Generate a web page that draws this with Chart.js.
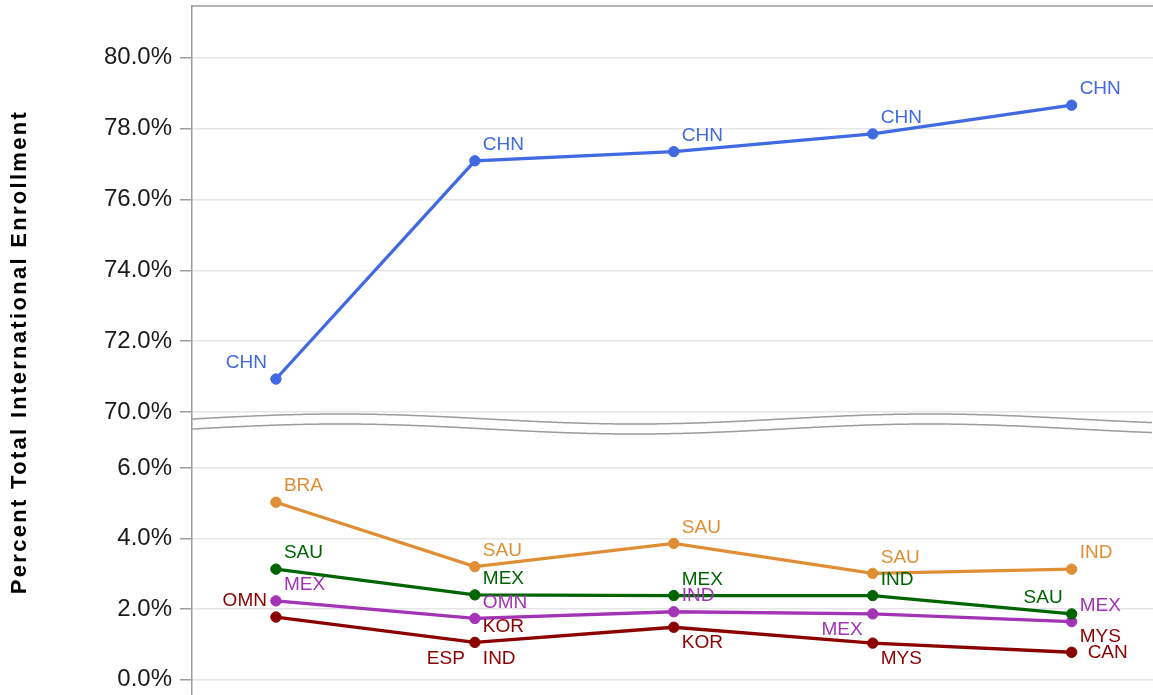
<!DOCTYPE html>
<html>
<head>
<meta charset="utf-8">
<script src="https://cdn.jsdelivr.net/npm/chart.js@4.4.1/dist/chart.umd.min.js"></script>
<style>
  html, body { margin: 0; padding: 0; background: #fff; }
  #wrap { width: 1153px; height: 695px; }
</style>
</head>
<body>
<div id="wrap"><canvas id="enrollChart"></canvas></div>
<script>
// five reporting periods, no labels shown on the x axis
const slots = [0, 1, 2, 3, 4];

// share of total international enrollment (%), by rank
const rank1 = [70.93, 77.09, 77.35, 77.85, 78.66];
const rank2 = [5.03, 3.20, 3.86, 3.01, 3.13];
const rank3 = [3.13, 2.40, 2.38, 2.38, 1.86];
const rank4 = [2.23, 1.73, 1.92, 1.86, 1.64];
const rank5 = [1.77, 1.05, 1.48, 1.03, 0.77];

// country codes shown next to each point
const rank1Codes = [['CHN'], ['CHN'], ['CHN'], ['CHN'], ['CHN']];
const rank2Codes = [['BRA'], ['SAU'], ['SAU'], ['SAU'], ['IND']];
const rank3Codes = [['SAU'], ['MEX'], ['MEX'], ['IND'], ['SAU']];
const rank4Codes = [['MEX'], ['OMN'], ['IND'], ['MEX'], ['MEX']];
const rank5Codes = [['OMN'], ['KOR', 'ESP', 'IND'], ['KOR'], ['MYS'], ['MYS', 'CAN']];

// tick labels of the two axis pieces
const upperTicks = [70, 72, 74, 76, 78, 80];
const lowerTicks = [0, 2, 4, 6];

// where each code sits around its point
const rank1Place = [['nw'], ['ne'], ['ne'], ['ne'], ['ne']];
const rank2Place = [['ne'], ['ne'], ['ne'], ['ne'], ['ne']];
const rank3Place = [['ne'], ['ne'], ['ne'], ['ne'], ['nw']];
const rank4Place = [['ne'], ['ne'], ['ne'], ['sw'], ['ne']];
const rank5Place = [['nw'], ['ne', 'sw', 'se'], ['se'], ['se'], ['ne', 'e']];

const offsets = {
    ne: { dx: 8, dy: -16, align: 'left' },
    nw: { dx: -9, dy: -16, align: 'right' },
    se: { dx: 8, dy: 16, align: 'left' },
    sw: { dx: -10, dy: 16, align: 'right' },
    e: { dx: 16, dy: 0, align: 'left' }
};

const FONT = "'Liberation Sans', Arial, sans-serif";
const AXIS_GRAY = '#9c9c9c';

function series(values, codes, place, color, axis) {
    return {
        data: values.map((v, i) => ({ x: slots[i], y: v })),
        codes: codes,
        place: place,
        yAxisID: axis,
        borderColor: color,
        backgroundColor: color,
        pointBackgroundColor: color,
        pointBorderColor: color,
        borderWidth: 3.3,
        pointRadius: 5.2,
        pointBorderWidth: 1,
        tension: 0
    };
}

function yScale(min, max, weight, order, ticks) {
    return {
        type: 'linear',
        position: 'left',
        stack: 'pct',
        stackWeight: weight,
        weight: order,
        min: min,
        max: max,
        grid: { color: '#e6e6e6', lineWidth: 1.5, tickColor: AXIS_GRAY, tickLength: 12, tickWidth: 1.5 },
        border: { color: AXIS_GRAY, width: 1.5 },
        ticks: {
            color: '#1a1a1a',
            padding: 8,
            font: { family: FONT, size: 24 },
            callback: v => v.toFixed(1) + '%'
        },
        afterBuildTicks: s => { s.ticks = ticks.map(v => ({ value: v })); },
        afterFit: s => { s.width = 192; s.paddingTop = 0; s.paddingBottom = 0; }
    };
}

// wavy break between the two axis pieces, top frame line, y title
const breakPlugin = {
    id: 'axisBreak',
    afterDraw(chart) {
        const { ctx, chartArea } = chart;
        const split = chart.scales.yTop.bottom;
        const w = chartArea.right - chartArea.left;
        ctx.save();
        ctx.strokeStyle = AXIS_GRAY;
        ctx.lineWidth = 1.5;
        [-5, 5].forEach(shift => {
            ctx.beginPath();
            for (let x = chartArea.left; x <= chartArea.right; x += 2) {
                const t = (x - chartArea.left - 148) / (w * 0.614);
                const y = split + shift - 5 * Math.cos(2 * Math.PI * t);
                if (x === chartArea.left) ctx.moveTo(x, y); else ctx.lineTo(x, y);
            }
            ctx.stroke();
        });
        ctx.beginPath();
        ctx.moveTo(chartArea.left, chartArea.top);
        ctx.lineTo(chartArea.right, chartArea.top);
        ctx.stroke();

        ctx.translate(20, 352);
        ctx.rotate(-Math.PI / 2);
        ctx.fillStyle = '#000';
        ctx.font = 'bold 22px ' + FONT;
        ctx.letterSpacing = '2.3px';
        ctx.textAlign = 'center';
        ctx.textBaseline = 'middle';
        ctx.fillText('Percent Total International Enrollment', 0, 0);
        ctx.restore();
    }
};

// country code next to each point
const codePlugin = {
    id: 'codes',
    afterDatasetsDraw(chart) {
        const ctx = chart.ctx;
        ctx.save();
        ctx.font = '19px ' + FONT;
        ctx.textBaseline = 'middle';
        chart.data.datasets.forEach((ds, di) => {
            const meta = chart.getDatasetMeta(di);
            meta.data.forEach((pt, i) => {
                ds.codes[i].forEach((code, k) => {
                    const o = offsets[ds.place[i][k]];
                    ctx.fillStyle = ds.borderColor;
                    ctx.textAlign = o.align;
                    ctx.fillText(code, pt.x + o.dx, pt.y + o.dy);
                });
            });
        });
        ctx.restore();
    }
};

const enrollChart = new Chart(document.getElementById('enrollChart'), {
    type: 'line',
    data: {
        datasets: [
            series(rank1, rank1Codes, rank1Place, '#4169E1', 'yTop'),
            series(rank2, rank2Codes, rank2Place, '#E08E36', 'yBottom'),
            series(rank3, rank3Codes, rank3Place, '#006400', 'yBottom'),
            series(rank4, rank4Codes, rank4Place, '#A234B5', 'yBottom'),
            series(rank5, rank5Codes, rank5Place, '#8B0000', 'yBottom')
        ]
    },
    options: {
        responsive: true,
        maintainAspectRatio: false,
        animation: false,
        layout: { autoPadding: false, padding: { top: 6, left: 0, right: 0, bottom: 0 } },
        plugins: {
            legend: { display: false },
            tooltip: { enabled: false }
        },
        scales: {
            x: { type: 'linear', min: -0.422, max: 4.409, display: false },
            yTop: yScale(69.66, 81.46, 418, 2, upperTicks),
            yBottom: yScale(-0.443, 7.25, 271, 1, lowerTicks)
        }
    },
    plugins: [breakPlugin, codePlugin]
});
</script>
</body>
</html>
